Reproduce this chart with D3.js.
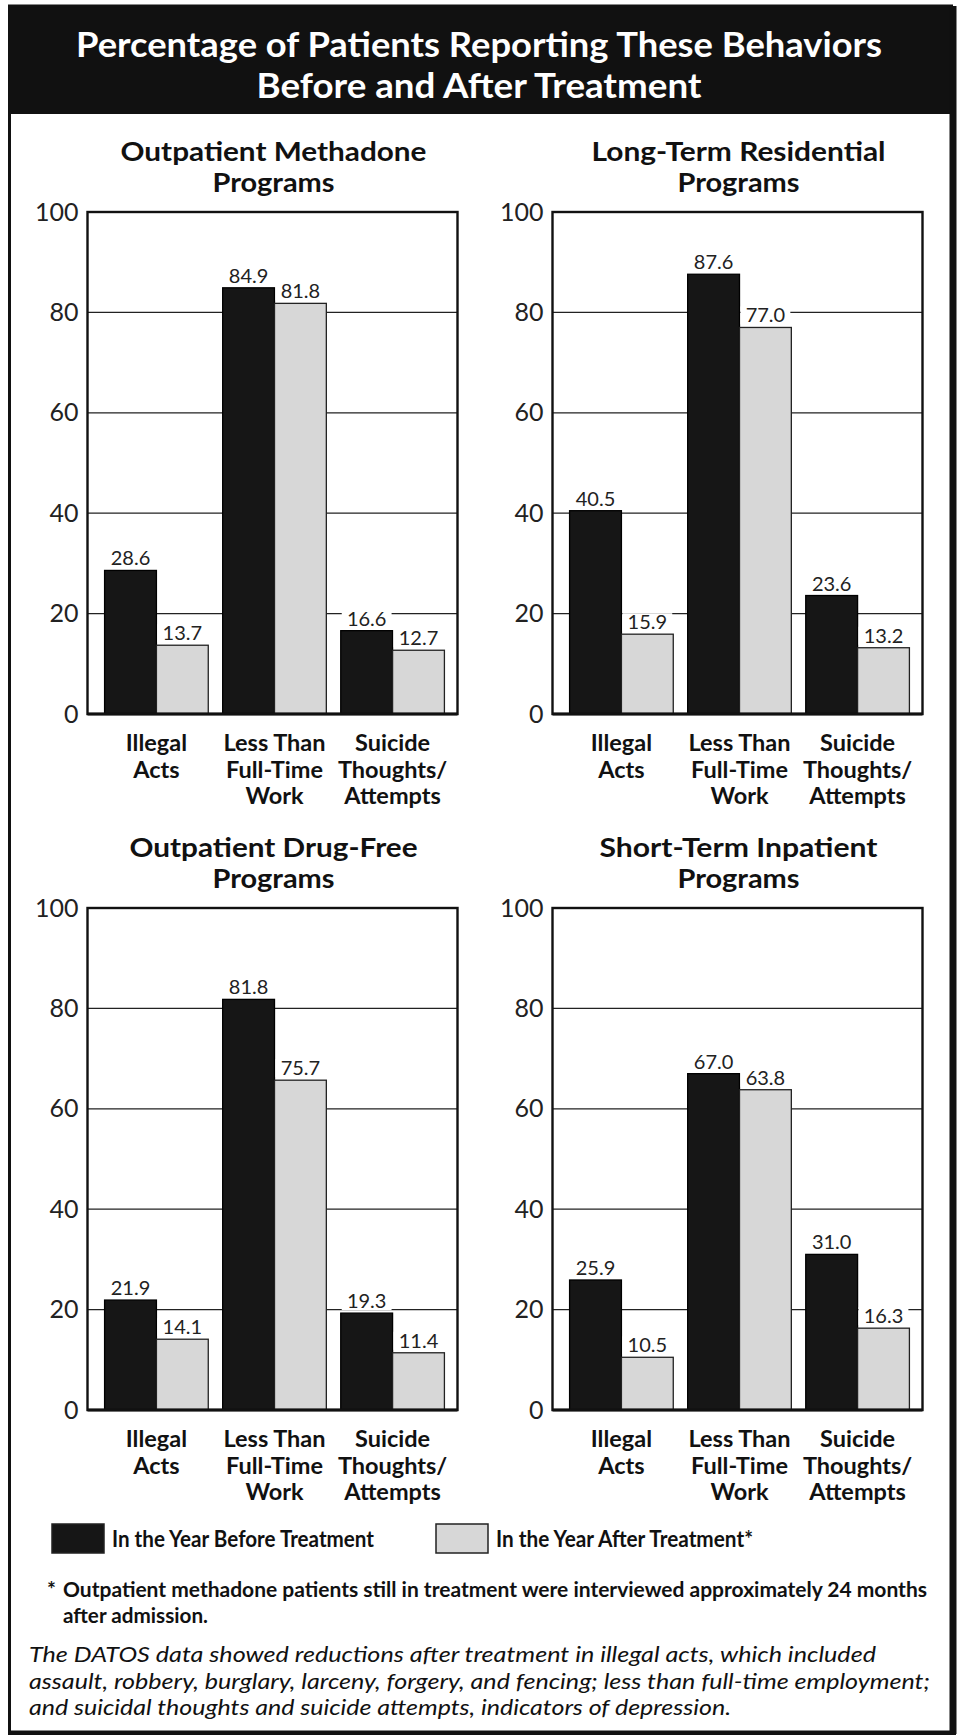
<!DOCTYPE html>
<html><head><meta charset="utf-8">
<script src="https://cdn.jsdelivr.net/npm/d3@7"></script>
<style>body{margin:0;background:#fff} svg{display:block}</style>
</head><body><svg id="c" width="959" height="1736"></svg>
<script>
// ---------- data ----------
const titleLines = ["Percentage of Patients Reporting These Behaviors", "Before and After Treatment"];
const programTitles = [
  ["Outpatient Methadone", "Programs"],
  ["Long-Term Residential", "Programs"],
  ["Outpatient Drug-Free", "Programs"],
  ["Short-Term Inpatient", "Programs"]
];
const categories = ["Illegal Acts", "Less Than Full-Time Work", "Suicide Thoughts/Attempts"];
const categoryLines = [["Illegal", "Acts"], ["Less Than", "Full-Time", "Work"], ["Suicide", "Thoughts/", "Attempts"]];
const seriesNames = ["In the Year Before Treatment", "In the Year After Treatment*"];
const beforeValues = [[28.6, 84.9, 16.6], [40.5, 87.6, 23.6], [21.9, 81.8, 19.3], [25.9, 67.0, 31.0]];
// bar heights as drawn in the picture (the Drug-Free "after" bar is drawn near 65.7 though printed 75.7)
const afterValues = [[13.7, 81.8, 12.7], [15.9, 77.0, 13.2], [14.1, 65.7, 11.4], [10.5, 63.8, 16.3]];
const afterLabels = [["13.7", "81.8", "12.7"], ["15.9", "77.0", "13.2"], ["14.1", "75.7", "11.4"], ["10.5", "63.8", "16.3"]];
const yTicks = [0, 20, 40, 60, 80, 100];
const footnoteLines = ["Outpatient methadone patients still in treatment were interviewed approximately 24 months", "after admission."];
const captionLines = [
  "The DATOS data showed reductions after treatment in illegal acts, which included",
  "assault, robbery, burglary, larceny, forgery, and fencing; less than full-time employment;",
  "and suicidal thoughts and suicide attempts, indicators of depression."
];

// ---------- layout ----------
const FONT = "Lato, 'Open Sans', sans-serif";
const svg = d3.select("#c");
const colX = [87.5, 552.5], rowY = [212, 908], plotW = 370, plotH = 502;
const BLACK = "#161616", GREY = "#d7d7d7";
const panelTitleW = [[306, 122], [294, 122], [288, 122], [278, 122]];

svg.append("rect").attr("width", 959).attr("height", 1736).attr("fill", "#fff");

// header
svg.append("rect").attr("x", 8).attr("y", 6).attr("width", 945).attr("height", 108).attr("fill", "#111");
const titleW = [806, 445], titleBase = [57, 98];
titleLines.forEach((t, i) => {
  svg.append("text").attr("x", 479).attr("y", titleBase[i]).attr("text-anchor", "middle")
    .attr("font-family", FONT).attr("font-size", 34).attr("font-weight", 700).attr("fill", "#fff")
    .attr("textLength", titleW[i]).attr("lengthAdjust", "spacingAndGlyphs").text(t);
});

// outer frame
svg.append("rect").attr("x", 9.5).attr("y", 6).attr("width", 942).attr("height", 1726)
  .attr("fill", "none").attr("stroke", "#111").attr("stroke-width", 3);
svg.append("line").attr("x1", 953).attr("x2", 953).attr("y1", 6).attr("y2", 1734).attr("stroke", "#111").attr("stroke-width", 7);
svg.append("line").attr("x1", 8).attr("x2", 956).attr("y1", 1733).attr("y2", 1733).attr("stroke", "#111").attr("stroke-width", 4);

const fmt = d3.format(".1f");

programTitles.forEach((pt, p) => {
  const L = colX[p % 2], T = rowY[Math.floor(p / 2)], R = L + plotW, B = T + plotH;
  const g = svg.append("g");
  const y = d3.scaleLinear().domain([0, 100]).range([B, T]);
  const x = d3.scaleBand().domain(categories).range([L + 10, R - 6]).paddingInner(0.122).paddingOuter(0.06);
  const sub = d3.scaleBand().domain(["before", "after"]).range([0, x.bandwidth()]);

  // panel title
  pt.forEach((line, i) => {
    g.append("text").attr("x", (L + R) / 2 + 1).attr("y", T - 51.5 + i * 31.5).attr("text-anchor", "middle")
      .attr("font-family", FONT).attr("font-size", 26).attr("font-weight", 700).attr("fill", "#111")
      .attr("textLength", panelTitleW[p][i]).attr("lengthAdjust", "spacingAndGlyphs").text(line);
  });

  // gridlines
  g.selectAll("line.grid").data(yTicks.filter(v => v > 0 && v < 100)).join("line")
    .attr("x1", L).attr("x2", R).attr("y1", d => y(d)).attr("y2", d => y(d))
    .attr("stroke", "#222").attr("stroke-width", 1.3);

  // y axis
  const ax = g.append("g").attr("transform", `translate(${L},0)`)
    .call(d3.axisLeft(y).tickValues(yTicks).tickSize(0).tickPadding(9).tickFormat(d3.format("d")));
  ax.select(".domain").remove();
  ax.selectAll("text").attr("font-family", FONT).attr("font-size", 25).attr("fill", "#222");

  // bars
  const rows = categories.map((c, i) => ({
    c, i,
    vals: [
      { k: "before", v: beforeValues[p][i], lab: fmt(beforeValues[p][i]), fill: BLACK, stroke: "#000" },
      { k: "after", v: afterValues[p][i], lab: afterLabels[p][i], fill: GREY, stroke: "#222" }
    ]
  }));
  const grp = g.selectAll("g.grp").data(rows).join("g").attr("transform", d => `translate(${x(d.c)},0)`);
  grp.selectAll("rect.bar").data(d => d.vals).join("rect")
    .attr("x", d => sub(d.k)).attr("width", sub.bandwidth())
    .attr("y", d => y(d.v)).attr("height", d => y(0) - y(d.v))
    .attr("fill", d => d.fill).attr("stroke", d => d.stroke).attr("stroke-width", 1.3);
  grp.selectAll("rect.lbg").data(d => d.vals).join("rect")
    .attr("x", d => sub(d.k) + 1).attr("width", sub.bandwidth() - 2)
    .attr("y", d => y(d.v) - 21).attr("height", 18).attr("fill", "#fff");
  grp.selectAll("text.val").data(d => d.vals).join("text")
    .attr("x", d => sub(d.k) + sub.bandwidth() / 2).attr("y", d => y(d.v) - 5)
    .attr("text-anchor", "middle").attr("font-family", FONT).attr("font-size", 20).attr("fill", "#222")
    .text(d => d.lab);

  // category labels
  grp.each(function (d) {
    categoryLines[d.i].forEach((line, j) => {
      d3.select(this).append("text").attr("x", x.bandwidth() / 2).attr("y", B + 37 + j * 26.5)
        .attr("text-anchor", "middle").attr("font-family", FONT).attr("font-size", 23.5).attr("font-weight", 700)
        .attr("fill", "#111").text(line);
    });
  });

  // frame
  g.append("rect").attr("x", L).attr("y", T).attr("width", plotW).attr("height", plotH)
    .attr("fill", "none").attr("stroke", "#111").attr("stroke-width", 2.4);
  g.append("line").attr("x1", L).attr("x2", R).attr("y1", B).attr("y2", B).attr("stroke", "#111").attr("stroke-width", 3);
});

// legend
const legX = [52, 436], legW = [262, 257], legFill = [BLACK, GREY];
seriesNames.forEach((s, i) => {
  svg.append("rect").attr("x", legX[i]).attr("y", 1524).attr("width", 52).attr("height", 29)
    .attr("fill", legFill[i]).attr("stroke", "#222").attr("stroke-width", 1.5);
  svg.append("text").attr("x", legX[i] + 60).attr("y", 1547).attr("font-family", FONT).attr("font-size", 22)
    .attr("font-weight", 700).attr("fill", "#111")
    .attr("textLength", legW[i]).attr("lengthAdjust", "spacingAndGlyphs").text(s);
});

// footnote
svg.append("text").attr("x", 47).attr("y", 1597).attr("font-family", FONT).attr("font-size", 21)
  .attr("font-weight", 700).attr("fill", "#111").text("*");
const fnW = [864, 145];
footnoteLines.forEach((t, i) => {
  svg.append("text").attr("x", 63).attr("y", 1597 + i * 25.5).attr("font-family", FONT).attr("font-size", 21)
    .attr("font-weight", 700).attr("fill", "#111")
    .attr("textLength", fnW[i]).attr("lengthAdjust", "spacingAndGlyphs").text(t);
});

// caption
const capW = [847, 901, 702];
captionLines.forEach((t, i) => {
  svg.append("text").attr("x", 29).attr("y", 1662 + i * 26.5).attr("font-family", FONT).attr("font-size", 22)
    .attr("font-style", "italic").attr("fill", "#111")
    .attr("textLength", capW[i]).attr("lengthAdjust", "spacingAndGlyphs").text(t);
});
</script>
</body></html>
